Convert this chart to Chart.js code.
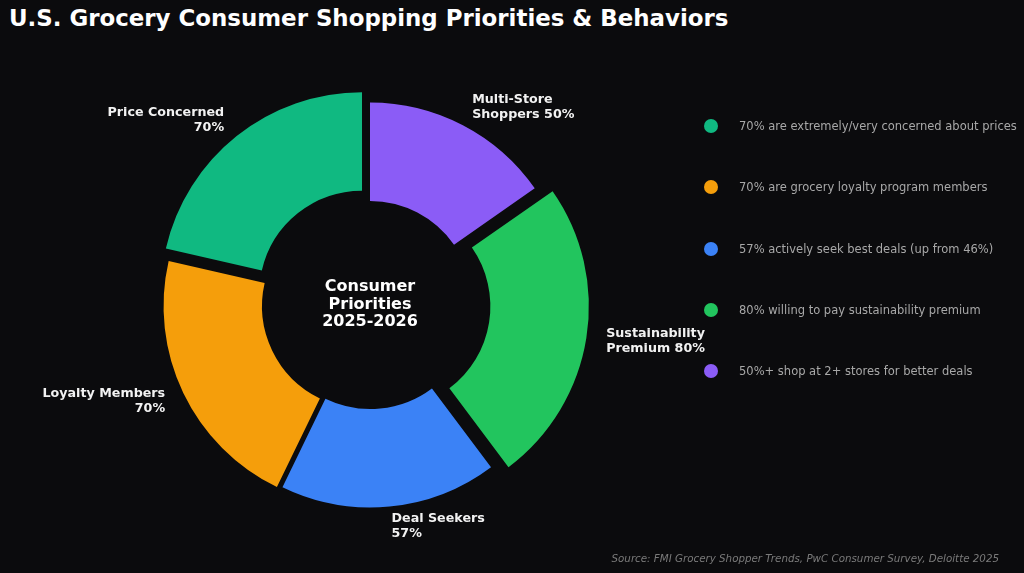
<!DOCTYPE html>
<html>
<head>
<meta charset="utf-8">
<script src="https://cdn.jsdelivr.net/npm/chart.js@4.4.1/dist/chart.umd.min.js"></script>
<style>
  html, body { margin: 0; padding: 0; background: #0b0b0d; }
  body { width: 1024px; height: 573px; position: relative; overflow: hidden; font-family: "DejaVu Sans", sans-serif; }
  #title { position: absolute; left: 9px; top: 5px; color: #fff; font-weight: bold; font-size: 22.9px; white-space: nowrap; }
  #chart-box { position: absolute; left: 0; top: 0; width: 1024px; height: 573px; }
  #legend { position: absolute; left: 704px; top: 95.4px; }
  .item { height: 61.3px; display: flex; align-items: center; color: #a8a8a8; font-size: 11.5px; white-space: nowrap; }
  .dot { width: 14px; height: 14px; border-radius: 50%; margin-right: 21px; flex: none; }
  #source { position: absolute; right: 25px; top: 552px; color: #7a7a7a; font-style: italic; font-size: 10.3px; white-space: nowrap; }
</style>
</head>
<body>
<div id="title">U.S. Grocery Consumer Shopping Priorities &amp; Behaviors</div>
<div id="chart-box"><canvas id="myChart"></canvas></div>
<div id="legend"></div>
<div id="source">Source: FMI Grocery Shopper Trends, PwC Consumer Survey, Deloitte 2025</div>
<script>
// counterclockwise from 12 o'clock, as in the picture
const LABELS = ['Price Concerned\n70%', 'Loyalty Members\n70%', 'Deal Seekers\n57%', 'Sustainability\nPremium 80%', 'Multi-Store\nShoppers 50%'];
const VALUES = [70, 70, 57, 80, 50];
const LEGEND_TEXT = [
  '70% are extremely/very concerned about prices',
  '70% are grocery loyalty program members',
  '57% actively seek best deals (up from 46%)',
  '80% willing to pay sustainability premium',
  '50%+ shop at 2+ stores for better deals',
];
const CENTER_TEXT = ['Consumer', 'Priorities', '2025-2026'];

const COLORS = ['#10b981', '#f59e0b', '#3b82f6', '#22c55e', '#8b5cf6'];
const EXPLODE = [0.065, 0.03, 0.015, 0.09, 0]; // fraction of radius
const RADIUS = 201;

// chart.js goes clockwise, so flip everything
const rev = arr => arr.slice().reverse();
const labels = rev(LABELS);
const values = rev(VALUES);
const colors = rev(COLORS);
const explode = rev(EXPLODE);
const total = values.reduce((a, b) => a + b, 0);

// arc.draw moves a slice by offset/4 * (2 - sin(circ)), undo that to get pixels
const offsetFor = (i) => {
  const circ = values[i] / total * Math.PI * 2;
  const px = explode[i] * RADIUS;
  return px * 4 / (2 - Math.sin(Math.min(Math.PI, circ)));
};

const legend = document.getElementById('legend');
LEGEND_TEXT.forEach((t, i) => {
  const row = document.createElement('div');
  row.className = 'item';
  row.innerHTML = `<div class="dot" style="background:${COLORS[i]}"></div><span>${t}</span>`;
  legend.appendChild(row);
});

const labelPlugin = {
  id: 'sliceLabels',
  afterDatasetsDraw(chart) {
    const ctx = chart.ctx;
    const arcs = chart.getDatasetMeta(0).data;
    ctx.save();
    ctx.fillStyle = '#f2f2f2';
    ctx.font = 'bold 12.7px "DejaVu Sans"';
    ctx.textBaseline = 'middle';
    arcs.forEach((arc, i) => {
      const mid = (arc.startAngle + arc.endAngle) / 2;
      const r = arc.outerRadius * 1.1 + explode[i] * arc.outerRadius;
      const x = arc.x + Math.cos(mid) * r;
      const y = arc.y + Math.sin(mid) * r;
      ctx.textAlign = Math.cos(mid) < 0 ? 'right' : 'left';
      const lines = labels[i].split('\n');
      lines.forEach((ln, k) => {
        ctx.fillText(ln, x, y + (k - (lines.length - 1) / 2) * 15);
      });
    });
    // center text
    const c = arcs[0];
    ctx.textAlign = 'center';
    ctx.font = 'bold 16px "DejaVu Sans"';
    ctx.fillStyle = '#ffffff';
    CENTER_TEXT.forEach((ln, k) => {
      ctx.fillText(ln, c.x, c.y + 1 + (k - 1) * 17.5);
    });
    ctx.restore();
  }
};

new Chart(document.getElementById('myChart').getContext('2d'), {
  type: 'doughnut',
  data: {
    labels,
    datasets: [{
      data: values,
      backgroundColor: colors,
      borderWidth: 0,
      offset: ctx => offsetFor(ctx.dataIndex),
    }],
  },
  options: {
    responsive: true,
    maintainAspectRatio: false,
    animation: false,
    radius: RADIUS,
    cutout: '51%',
    layout: { padding: { left: 0, right: 284, top: 34, bottom: 0 } },
    plugins: {
      legend: { display: false },
      tooltip: { enabled: false },
    },
  },
  plugins: [labelPlugin],
});
</script>
</body>
</html>
